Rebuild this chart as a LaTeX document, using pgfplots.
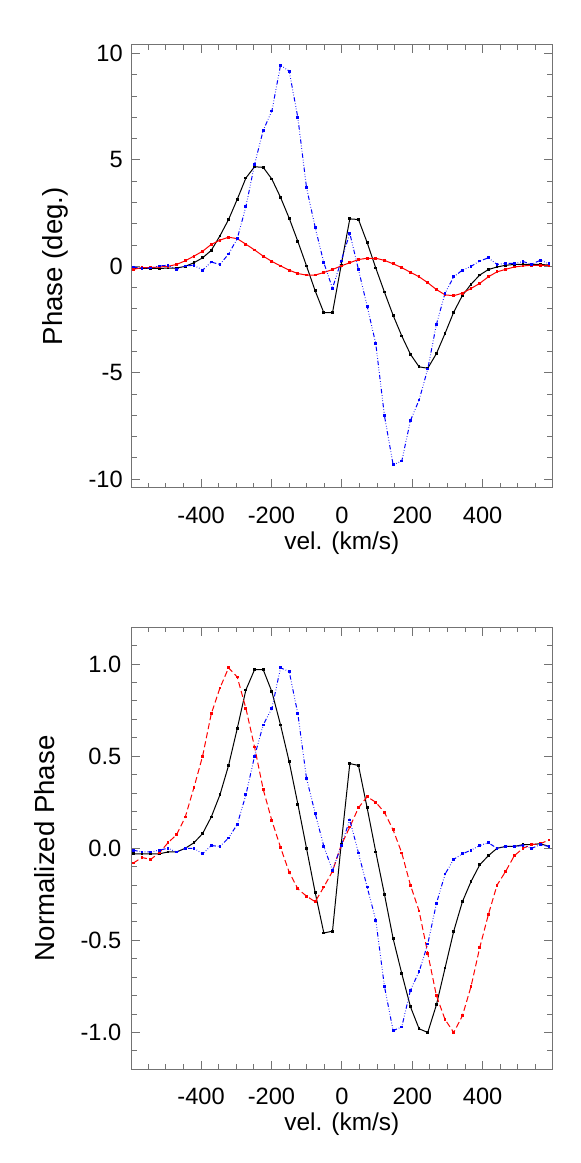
\documentclass[border=0pt]{standalone}
\usepackage{fontspec}
\setmainfont{Liberation Sans}
\usepackage{pgfplots}
\usepackage{pgfplotstable}
\pgfplotsset{compat=1.18}

% v = velocity, bt/rt/lt = phase (deg.), bn/rn/ln = normalized phase
\pgfplotstableread{
v      bt     rt     lt     bn     rn     ln
-592.4 -0.10  -0.14  -0.03  -0.03  -0.08  -0.01
-567.8 -0.10  -0.06  -0.10  -0.03  -0.05  -0.02
-543.2 -0.10  -0.06  -0.08  -0.03  -0.06  -0.02
-518.6 -0.10  -0.03   0.02  -0.03  -0.025 -0.01
-494.0 -0.08   0.00   0.05  -0.02   0.03   0.00
-469.4 -0.08   0.09  -0.14  -0.02   0.074 -0.02
-444.8  0.00   0.26   0.02   0.00   0.17   0.00
-420.2  0.17   0.48   0.05   0.03   0.33   0.00
-395.6  0.40   0.71  -0.18   0.08   0.50  -0.03
-371.0  0.75   1.03   0.20   0.17   0.73   0.015
-346.4  1.43   1.23   0.09   0.29   0.87   0.01
-321.8  2.20   1.37   0.58   0.45   0.98   0.056
-297.2  3.15   1.30   1.30   0.65   0.93   0.13
-272.6  4.15   1.04   2.80   0.86   0.76   0.29
-248.0  4.68   0.77   4.79   0.97   0.55   0.50
-223.4  4.65   0.48   6.39   0.97   0.32   0.67
-198.8  4.10   0.23   7.30   0.85   0.15   0.76
-174.2  3.24   0.02   9.45   0.67   0.005  0.98
-149.6  2.26  -0.18   9.17   0.47  -0.13   0.96
-125.0  1.17  -0.34   6.99   0.24  -0.22   0.73
-100.4  0.02  -0.41   3.70   0.00  -0.26   0.38
-75.8  -1.15  -0.41   1.83  -0.24  -0.29   0.19
-51.2  -2.18  -0.29   0.17  -0.46  -0.21   0.01
-26.6  -2.18  -0.15  -1.03  -0.45  -0.125 -0.12
-2.0    0.05   0.02   0.25   0.02   0.016  0.014
22.6    2.23   0.17   1.55   0.46   0.116  0.154
47.2    2.20   0.32  -0.15   0.45   0.22  -0.025
71.8    1.12   0.38  -1.87   0.22   0.28  -0.21
96.4   -0.08   0.38  -3.64  -0.02   0.25  -0.39
121.0  -1.21   0.28  -7.02  -0.25   0.195 -0.75
145.6  -2.30   0.12  -9.32  -0.49   0.10  -0.99
170.2  -3.27  -0.06  -9.15  -0.68  -0.025 -0.97
194.8  -4.13  -0.28  -7.25  -0.86  -0.20  -0.77
219.4  -4.72  -0.49  -6.28  -0.98  -0.34  -0.67
244.0  -4.79  -0.77  -4.82  -1.00  -0.57  -0.52
268.6  -4.10  -1.09  -2.73  -0.85  -0.80  -0.30
293.2  -3.15  -1.34  -1.26  -0.65  -0.93  -0.14
317.8  -2.15  -1.38  -0.49  -0.45  -1.00  -0.06
342.4  -1.37  -1.26  -0.18  -0.29  -0.91  -0.03
367.0  -0.84  -1.04   0.00  -0.18  -0.75  -0.01
391.6  -0.41  -0.80   0.25  -0.09  -0.54   0.015
416.2  -0.15  -0.49   0.40  -0.04  -0.36   0.03
440.8  -0.03  -0.26   0.09   0.00  -0.20   0.00
465.4   0.05  -0.14   0.14   0.01  -0.125  0.01
490.0   0.09  -0.03   0.14   0.01  -0.04   0.01
514.6   0.09   0.02   0.23   0.02   0.00   0.015
539.2   0.09   0.05   0.09   0.02   0.02   0.00
563.8   0.09   0.05   0.29   0.025  0.025  0.02
588.4   0.06   0.05   0.12   0.01   0.045  0.01
}\data

\pgfplotsset{
  phax/.style={
    scale only axis, width=210.15pt,
    xmin=-597, xmax=597,
    axis line style={black!55, line width=0.5pt},
    every tick/.style={black!55, line width=0.5pt},
    tick align=inside, major tick length=4.2pt, minor tick length=2.5pt,
    xtick={-400,-200,0,200,400},
    xticklabels={-400,-200,0,200,400},
    minor xtick={-550,-500,-450,-350,-300,-250,-150,-100,-50,50,100,150,250,300,350,450,500,550},
    xticklabel style={anchor=base, inner sep=0pt, yshift=-17.8pt, font=\fontsize{11.8}{14}\selectfont},
    yticklabel style={anchor=east, inner sep=0pt, font=\fontsize{11.8}{14}\selectfont},
    xlabel={vel. (km/s)},
    xlabel style={at={(axis description cs:0.5,0)}, anchor=base, yshift=-30.8pt, font=\fontsize{12.2}{14}\selectfont},
    ylabel style={anchor=base, rotate=0, font=\fontsize{13.8}{16}\selectfont},
    clip=false,
  },
  blk/.style={black, line width=0.5pt, mark=square*, mark size=0.45pt, mark options={solid}},
  rd/.style={red, line width=0.5pt, mark=square*, mark size=0.45pt, mark options={solid}},
  bl/.style={blue, line width=0.5pt, mark=square*, mark size=0.45pt, mark options={solid},
    dash pattern=on 2.2pt off 1pt on 0.3pt off 1pt on 0.3pt off 1pt on 0.3pt off 1pt},
}

\begin{document}
\begin{tikzpicture}
\path[use as bounding box] (0,0) rectangle (290.5pt,581.5pt);

\begin{axis}[phax,
  at={(65.85pt,337.65pt)}, anchor=south west,
  height=221.35pt,
  ymin=-10.4, ymax=10.4,
  ytick={-10,-5,0,5,10},
  yticklabels={-10,-5,0,5,10},
  minor ytick={-9,-8,-7,-6,-4,-3,-2,-1,1,2,3,4,6,7,8,9},
  yticklabel style={xshift=-4.3pt},
  ylabel={Phase (deg.)},
  ylabel style={at={(axis description cs:-0.1642,0.5)}},
]
\addplot[blk] table[x=v, y=bt] {\data};
\addplot[rd] table[x=v, y=rt] {\data};
\addplot[bl] table[x=v, y=lt] {\data};
\end{axis}

\begin{axis}[phax,
  at={(65.85pt,46.85pt)}, anchor=south west,
  height=221pt,
  ymin=-1.2, ymax=1.2,
  ytick={-1,-0.5,0,0.5,1},
  yticklabels={-1.0,-0.5,0.0,0.5,1.0},
  minor ytick={-1.1,-0.9,-0.8,-0.7,-0.6,-0.4,-0.3,-0.2,-0.1,0.1,0.2,0.3,0.4,0.6,0.7,0.8,0.9,1.1},
  yticklabel style={xshift=-5pt},
  ylabel={Normalized Phase},
  ylabel style={at={(axis description cs:-0.1825,0.5)}},
]
\addplot[blk] table[x=v, y=bn] {\data};
\addplot[rd, dash pattern=on 3pt off 1.6pt] table[x=v, y=rn] {\data};
\addplot[bl] table[x=v, y=ln] {\data};
\end{axis}
\end{tikzpicture}
\end{document}
